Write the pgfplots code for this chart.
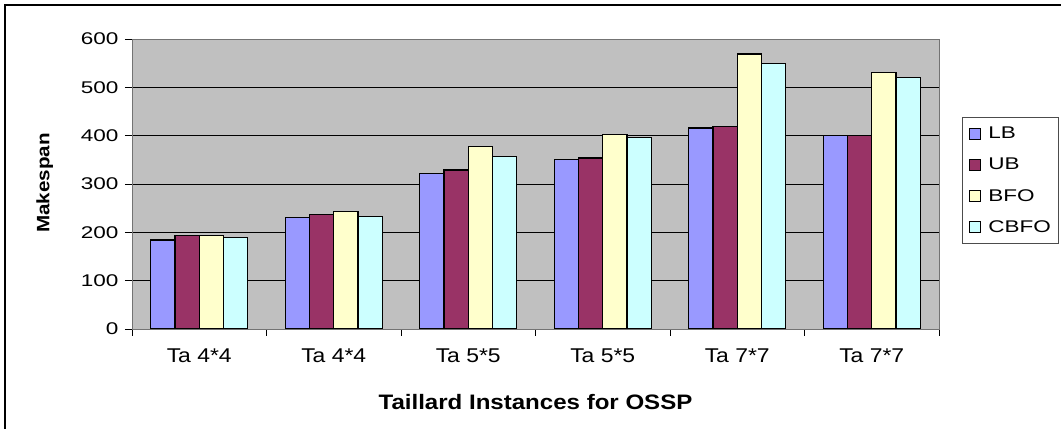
\documentclass[border=0pt]{standalone}
\usepackage{fontspec}
\setmainfont{Liberation Sans}
\newfontfamily\fA{Liberation Sans}[FakeStretch=1.33]
\newfontfamily\fB{Liberation Sans}[FakeStretch=1.15]
\usepackage{pgfplots}
\pgfplotsset{compat=1.18}
\definecolor{cLB}{HTML}{9999FF}
\definecolor{cUB}{HTML}{993366}
\definecolor{cBFO}{HTML}{FFFFCC}
\definecolor{cCBFO}{HTML}{CCFFFF}
\definecolor{plotbg}{HTML}{C0C0C0}
\begin{document}
\begin{tikzpicture}
\useasboundingbox (0bp,0bp) rectangle (1061bp,429bp);
\clip (0bp,0bp) rectangle (1061bp,429bp);
\draw[line width=2bp] (5bp,-5bp) -- (5bp,424bp) -- (1070bp,424bp);
\begin{axis}[
  at={(132bp,100bp)}, anchor=south west,
  scale only axis, width=807bp, height=290bp,
  xmin=-0.5, xmax=5.5, ymin=0, ymax=600,
  ybar=0pt, bar width=24.3bp,
  axis background/.style={fill=plotbg},
  axis line style={black!55, line width=1bp},
  ytick={0,100,...,600},
  ymajorgrids, major grid style={black, line width=0.9bp},
  tick align=outside, major tick length=7bp,
  tick style={black, line width=0.9bp},
  ytick pos=left, xtick pos=bottom,
  xtick={-0.5,0.5,...,5.5}, xticklabels={},
  extra x ticks={0,1,2,3,4,5},
  extra x tick labels={Ta 4*4,Ta 4*4,Ta 5*5,Ta 5*5,Ta 7*7,Ta 7*7},
  extra x tick style={major tick length=0pt, tick style={draw=none}},
  /pgf/number format/assume math mode=true,
  yticklabel style={font=\fA\fontsize{17}{20}\selectfont, xshift=-3bp},
  xticklabel style={font=\fB\fontsize{20}{24}\selectfont, yshift=-16bp},
  xlabel={\bfseries Taillard Instances for OSSP},
  ylabel={\bfseries Makespan},
  xlabel style={font=\fB\fontsize{21}{24}\selectfont, at={(axis description cs:0.5,-0.252)}, anchor=center},
  ylabel style={font=\fB\fontsize{18}{22}\selectfont, at={(axis description cs:-0.108,0.503)}, anchor=center},
  legend style={at={(1.0285,0.731)}, anchor=north west, draw=black!70, line width=1bp, fill=white,
    font=\fA\fontsize{17}{20}\selectfont, row sep=14bp, inner xsep=6bp, inner ysep=7.5bp},
  legend cell align=left,
  legend image code/.code={\draw[#1, line width=0.9bp] (0bp,-5.5bp) rectangle (11bp,5.5bp);},
  every axis plot/.append style={draw=black, line width=1.2bp},
]
\addplot[fill=cLB] coordinates {(0,184) (1,230) (2,321) (3,351) (4,416) (5,400)};
\addplot[fill=cUB] coordinates {(0,193) (1,237) (2,329) (3,354) (4,419) (5,400)};
\addplot[fill=cBFO] coordinates {(0,193) (1,243) (2,377) (3,403) (4,569) (5,530)};
\addplot[fill=cCBFO] coordinates {(0,190) (1,233) (2,357) (3,397) (4,550) (5,520)};
\legend{\hspace*{6bp}LB,\hspace*{6bp}UB,\hspace*{6bp}BFO,\hspace*{6bp}CBFO}
\end{axis}
\end{tikzpicture}
\end{document}
